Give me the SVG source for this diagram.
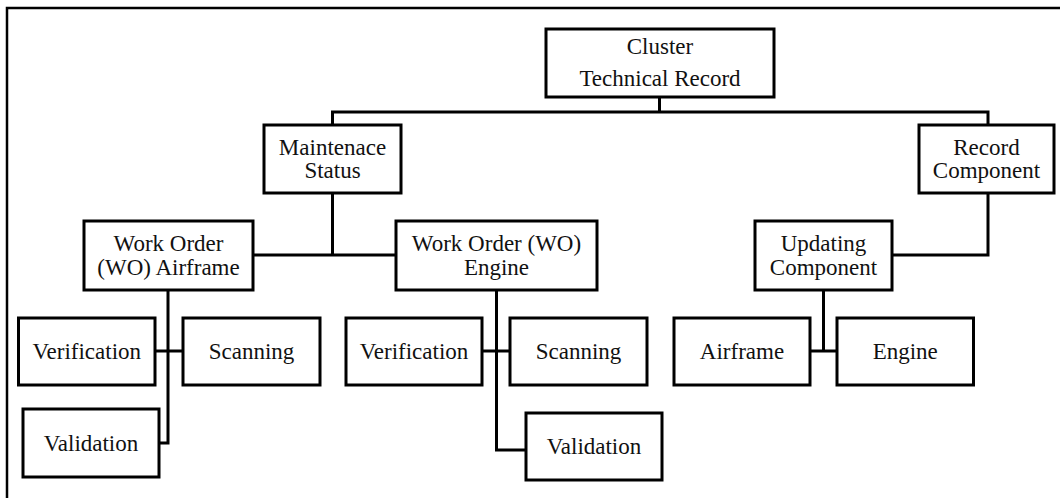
<svg xmlns="http://www.w3.org/2000/svg" width="1060" height="498" viewBox="0 0 1060 498">
<style>
.box{fill:#fff;stroke:#000;stroke-width:3}
.ln{fill:none;stroke:#000;stroke-width:3;stroke-linejoin:miter}
.frame{fill:none;stroke:#000;stroke-width:2.5}
text{font-family:"Liberation Serif","Times New Roman",serif;font-size:23px;fill:#111;text-anchor:middle}
</style>
<rect width="1060" height="498" fill="#fff"/>
<path class="frame" d="M1060,8 H7 V498"/>
<g id="connectors">
<path class="ln" d="M659.5,97 V112"/>
<path class="ln" d="M332.5,125 V112 H988 V125"/>
<path class="ln" d="M332.5,193 V255"/>
<path class="ln" d="M253,255 H396"/>
<path class="ln" d="M988,193 V255 H892"/>
<path class="ln" d="M168,290 V443 H159"/>
<path class="ln" d="M155,351 H183"/>
<path class="ln" d="M496.5,290 V450 H526"/>
<path class="ln" d="M482,351 H510"/>
<path class="ln" d="M823.5,290 V351"/>
<path class="ln" d="M810,351 H837"/>
</g>
<g id="cluster">
<rect class="box" x="546" y="29" width="228" height="68"/>
<text x="660" y="54">Cluster</text>
<text x="660" y="86">Technical Record</text>
</g>
<g id="maintenance">
<rect class="box" x="264" y="125" width="137" height="68"/>
<text x="332.5" y="154.5">Maintenace</text>
<text x="332.5" y="178">Status</text>
</g>
<g id="record">
<rect class="box" x="919" y="125" width="135" height="68"/>
<text x="986.5" y="154.5">Record</text>
<text x="986.5" y="178">Component</text>
</g>
<g id="wo-airframe">
<rect class="box" x="84" y="221" width="169" height="69"/>
<text x="168.5" y="251">Work Order</text>
<text x="168.5" y="274.5">(WO) Airframe</text>
</g>
<g id="wo-engine">
<rect class="box" x="396" y="221" width="201" height="69"/>
<text x="496.5" y="251">Work Order (WO)</text>
<text x="496.5" y="274.5">Engine</text>
</g>
<g id="updating">
<rect class="box" x="755" y="221" width="137" height="69"/>
<text x="823.5" y="251">Updating</text>
<text x="823.5" y="274.5">Component</text>
</g>
<g id="verification1">
<rect class="box" x="18.5" y="318" width="136.5" height="67"/>
<text x="86.75" y="359">Verification</text>
</g>
<g id="scanning1">
<rect class="box" x="183" y="318" width="137" height="67"/>
<text x="251.5" y="359">Scanning</text>
</g>
<g id="validation1">
<rect class="box" x="23" y="409" width="136" height="68"/>
<text x="91" y="451">Validation</text>
</g>
<g id="verification2">
<rect class="box" x="346" y="318" width="136" height="67"/>
<text x="414" y="359">Verification</text>
</g>
<g id="scanning2">
<rect class="box" x="510" y="318" width="137" height="67"/>
<text x="578.5" y="359">Scanning</text>
</g>
<g id="validation2">
<rect class="box" x="526" y="413" width="136" height="67"/>
<text x="594" y="454">Validation</text>
</g>
<g id="airframe">
<rect class="box" x="674" y="318" width="136" height="67"/>
<text x="742" y="359">Airframe</text>
</g>
<g id="engine">
<rect class="box" x="837" y="318" width="136.5" height="67"/>
<text x="905.25" y="359">Engine</text>
</g>
</svg>
